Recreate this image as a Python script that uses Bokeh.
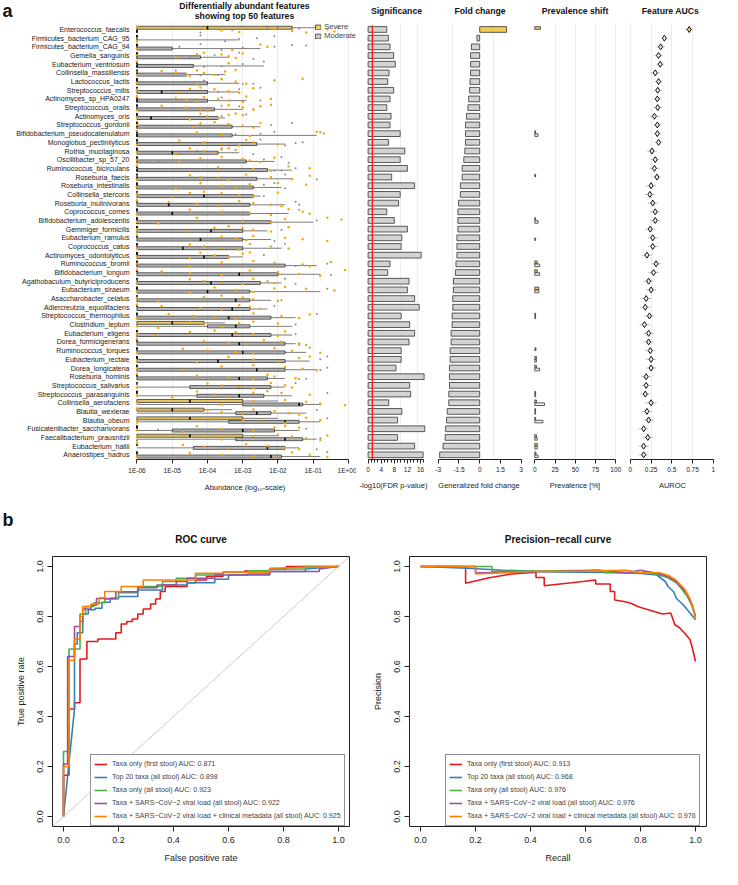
from bokeh.plotting import figure
from bokeh.models import Range1d, FixedTicker, Legend, LegendItem, Slope
from bokeh.layouts import row, column
from bokeh.embed import file_html
from bokeh.resources import INLINE
from bokeh.core.properties import value

FONT = "Liberation Sans"

# ---------------- panel a data ----------------
FEATURES = [
    "Enterococcus_faecalis", "Firmicutes_bacterium_CAG_95", "Firmicutes_bacterium_CAG_94",
    "Gemella_sanguinis", "Eubacterium_ventriosum", "Collinsella_massiliensis", "Lactococcus_lactis",
    "Streptococcus_mitis", "Actinomyces_sp_HPA0247", "Streptococcus_oralis", "Actinomyces_oris",
    "Streptococcus_gordonii", "Bifidobacterium_pseudocatenulatum", "Monoglobus_pectinilyticus",
    "Rothia_mucilaginosa", "Oscillibacter_sp_57_20", "Ruminococcus_bicirculans", "Roseburia_faecis",
    "Roseburia_intestinalis", "Collinsella_stercoris", "Roseburia_inulinivorans", "Coprococcus_comes",
    "Bifidobacterium_adolescentis", "Gemmiger_formicilis", "Eubacterium_ramulus", "Coprococcus_catus",
    "Actinomyces_odontolyticus", "Ruminococcus_bromii", "Bifidobacterium_longum",
    "Agathobaculum_butyriciproducens", "Eubacterium_siraeum", "Asaccharobacter_celatus",
    "Adlercreutzia_equolifaciens", "Streptococcus_thermophilus", "Clostridium_leptum",
    "Eubacterium_eligens", "Dorea_formicigenerans", "Ruminococcus_torques", "Eubacterium_rectale",
    "Dorea_longicatena", "Roseburia_hominis", "Streptococcus_salivarius", "Streptococcus_parasanguinis",
    "Collinsella_aerofaciens", "Blautia_wexlerae", "Blautia_obeum", "Fusicatenibacter_saccharivorans",
    "Faecalibacterium_prausnitzii", "Eubacterium_hallii", "Anaerostipes_hadrus"]

# -log10(FDR p-value)
SIG = [5.7, 6.2, 6.7, 7.8, 8.3, 6.4, 6.0, 7.8, 6.7, 5.7,
       7.0, 6.7, 9.8, 6.2, 11.2, 9.8, 12.0, 7.2, 14.2, 9.8,
       9.3, 5.7, 8.0, 12.0, 10.3, 10.1, 16.2, 6.7, 6.0, 12.5,
       12.0, 14.2, 15.6, 10.1, 12.7, 14.2, 12.5, 10.1, 10.1, 8.5,
       17.1, 12.7, 13.0, 6.3, 10.3, 9.0, 17.3, 9.0, 14.2, 16.8]
SIG_CUTOFF = 1.3
# generalized fold change
FC = [1.95, -0.2, -0.6, -0.66, -0.66, -0.66, -0.7, -0.73, -0.8, -0.85,
      -0.96, -1.03, -1.03, -1.03, -1.08, -1.15, -1.27, -1.27, -1.4, -1.4,
      -1.53, -1.58, -1.58, -1.58, -1.65, -1.65, -1.65, -1.72, -1.76, -1.9,
      -1.9, -1.95, -1.95, -2.0, -2.0, -2.07, -2.07, -2.14, -2.14, -2.19,
      -2.19, -2.19, -2.24, -2.24, -2.35, -2.4, -2.47, -2.5, -2.66, -2.9]
# prevalence [%]
PREV_SEV = [7, 0, 0, 0, 0, 0, 0, 0, 0, 0,
            0, 0, 1, 0, 0, 0, 0, 1, 0, 0,
            0, 0, 1, 0, 0, 0, 0, 3, 3, 0,
            5, 0, 0, 1, 0, 0, 0, 1.5, 2, 2,
            0, 0, 1, 2, 1, 1, 0, 2, 3, 1.5]
PREV_MOD = [0, 0, 0, 0, 0, 0, 0, 0, 0, 0,
            0, 0, 4, 0, 0, 0, 0, 0, 0, 0,
            0, 0, 4, 0, 1, 0, 0, 6, 6, 0,
            5, 0, 0, 1, 0, 0, 0, 0, 2, 6,
            0, 0, 1, 12, 1, 10, 0, 3, 3, 4]
# feature AUROC and CI half width
AUC = [0.71, 0.41, 0.365, 0.34, 0.36, 0.30, 0.34, 0.33, 0.325, 0.33,
       0.29, 0.325, 0.325, 0.34, 0.26, 0.30, 0.29, 0.32, 0.25, 0.235,
       0.27, 0.30, 0.30, 0.24, 0.27, 0.27, 0.20, 0.31, 0.28, 0.22,
       0.25, 0.19, 0.18, 0.23, 0.17, 0.22, 0.22, 0.24, 0.25, 0.25,
       0.19, 0.19, 0.18, 0.25, 0.20, 0.22, 0.16, 0.21, 0.16, 0.16]
AUC_CI = [0.05, 0.03, 0.05, 0.05, 0.05, 0.06, 0.05, 0.05, 0.05, 0.05,
          0.06, 0.05, 0.05, 0.05, 0.06, 0.05, 0.06, 0.05, 0.06, 0.06,
          0.06, 0.06, 0.06, 0.06, 0.06, 0.06, 0.06, 0.06, 0.06, 0.06,
          0.06, 0.06, 0.06, 0.06, 0.06, 0.06, 0.06, 0.06, 0.06, 0.06,
          0.06, 0.06, 0.06, 0.07, 0.06, 0.06, 0.06, 0.06, 0.06, 0.06]

# abundance boxplots (log10), pseudo-count floor 1E-06
FLOOR = -6
SEV_Q1 = [-6] * 50
SEV_MED = [-4.0, -6, -6, -6, -6, -6, -6, -6, -6, -6,
           -6, -6, -6, -6, -6, -6, -6, -6, -6, -6,
           -6, -6, -6, -6, -6, -6, -6, -6, -6, -6,
           -6, -6, -6, -6, -5.0, -6, -6, -6, -6, -6,
           -6, -6, -6, -4.5, -5.0, -4.5, -6, -4.5, -6, -6]
SEV_Q3 = [-1.6, -6, -6, -6, -6, -6, -6, -6, -6, -6,
          -6, -6, -6, -6, -6, -6, -6, -6, -6, -6,
          -6, -6, -6, -6, -6, -6, -6, -6, -6, -6,
          -6, -6, -6, -6, -4.1, -6, -6, -6, -6, -6,
          -6, -6, -6, -3.0, -4.1, -3.0, -6, -3.0, -6, -6]
SEV_HI = [-0.9, -6, -6, -6, -6, -6, -6, -6, -6, -6,
          -6, -6, -6, -6, -6, -6, -6, -6, -6, -6,
          -6, -6, -6, -6, -6, -6, -6, -6, -6, -6,
          -6, -6, -6, -6, -3.5, -6, -6, -6, -6, -6,
          -6, -6, -6, -2.0, -3.3, -2.0, -6, -2.0, -6, -6]
MOD_Q1 = [-6, -6, -6, -6, -6, -6, -6, -6, -6, -6,
          -6, -6, -6, -6, -6, -6, -6, -6, -6, -6,
          -6, -6, -6, -6, -6, -6, -6, -6, -6, -6,
          -6, -6, -6, -6, -4.0, -6, -6, -6, -6, -6,
          -6, -4.5, -4.3, -3.0, -3.2, -3.4, -5.0, -3.2, -4.4, -6]
MOD_MED = [-6, -6, -6, -6, -6, -6, -6, -5.3, -6, -6,
           -5.6, -6, -6, -6, -5.0, -6, -6, -6, -6, -4.1,
           -5.1, -5.0, -6, -3.9, -4.2, -4.7, -4.1, -6, -3.1, -3.9,
           -4.0, -3.2, -3.3, -3.4, -3.2, -3.3, -3.1, -3.0, -3.7, -2.6,
           -3.1, -3.1, -3.1, -1.4, -2.6, -1.8, -3.0, -1.8, -2.3, -2.2]
MOD_Q3 = [-6, -6, -5.0, -4.2, -4.4, -4.6, -4.0, -4.0, -4.0, -3.8,
          -3.7, -3.3, -3.3, -2.6, -3.7, -2.9, -2.3, -2.6, -2.7, -2.7,
          -2.8, -2.8, -2.2, -3.0, -3.0, -3.0, -3.4, -1.8, -2.0, -2.5,
          -2.8, -2.8, -2.8, -2.2, -2.8, -2.2, -1.8, -1.8, -1.8, -1.8,
          -2.3, -2.2, -2.4, -1.3, -2.2, -1.4, -2.1, -1.3, -1.8, -1.9]
MOD_HI = [-6, -3.1, -2.5, -3.4, -2.4, -3.5, -3.1, -3.1, -2.9, -3.0,
          -3.5, -2.5, -0.9, -1.8, -3.1, -2.1, -1.6, -1.6, -1.9, -2.5,
          -1.8, -1.7, -1.0, -2.3, -2.2, -1.9, -3.0, -0.9, -0.8, -1.9,
          -0.8, -2.2, -2.3, -1.5, -1.6, -1.6, -1.5, -1.2, -1.1, -0.9,
          -1.8, -1.8, -1.6, -0.8, -1.2, -0.8, -1.4, -0.9, -1.4, -0.8]
SEV_PTS = [
    [-6, -4.1, -3.6, -3.1, -2.5, -2.1, -1.6, -1.2, -0.9, -0.6, -0.4, -0.3],
    [-6],
    [-6, -3.3, -2.5, -2.3],
    [-6, -4.9, -4.3, -4.1, -3.6, -3.4, -3.2, -3.0],
    [-6, -3.4],
    [-6, -5.3, -4.9, -4.6, -4.5, -4.3, -4.1, -3.8, -3.5, -3.2],
    [-6, -4.3, -3.6, -3.2, -2.9, -2.1, -1.3],
    [-6, -4.8, -4.5, -4.2, -3.8, -3.4, -3.1, -2.7],
    [-6, -4.9, -4.6, -4.3, -4.1, -3.7, -3.4, -3.0, -2.9, -2.2],
    [-6, -5.3, -4.6, -4.2, -4.0, -3.4, -3.0, -2.7, -2.5, -2.2],
    [-6, -4.5, -4.2, -4.0, -3.7, -3.4, -3.2, -3.0],
    [-6, -4.4, -4.2, -3.8, -3.4, -3.0, -2.7, -2.5],
    [-6, -4.3, -3.6, -2.8, -0.9, -0.7],
    [-6, -4.8, -4.1, -3.6, -3.1, -2.9, -2.7, -2.0],
    [-6, -4.9, -4.5, -4.1, -3.8, -3.6, -3.4, -3.2],
    [-6, -4.8, -4.2, -3.6, -3.0, -2.8, -2.5, -2.1],
    [-6, -3.7, -2.7, -2.2, -1.7, -1.1],
    [-6, -4.5, -4.2, -3.7, -3.4, -2.9, -2.2, -1.6, -1.1],
    [-6, -4.9, -4.2, -3.6, -3.2, -2.8, -2.0, -1.2],
    [-6, -5.0, -4.5, -4.1, -3.6, -3.1, -2.7, -2.0],
    [-6, -5.1, -4.3, -3.7, -3.1, -2.7, -2.2, -1.9],
    [-6, -4.5, -3.6, -2.8, -2.2, -1.7, -1.3, -1.1],
    [-6, -5.4, -4.3, -3.0, -2.2, -1.8, -0.6, -0.2],
    [-6, -4.6, -3.8, -3.4, -3.0, -2.7, -2.2, -1.7],
    [-6, -3.6, -3.2, -2.9, -2.7, -1.8, -1.3, -0.6],
    [-6, -4.5, -4.1, -3.6, -3.1, -2.8, -2.2, -1.7],
    [-6, -4.5, -4.2, -3.8, -3.4, -3.0, -2.8],
    [-6, -4.5, -3.6, -2.7, -2.1, -1.3, -1.1, -0.5],
    [-6, -5.3, -4.5, -3.6, -2.8, -2.0, -1.4, -0.8, -0.1],
    [-6, -4.5, -4.1, -3.6, -3.0, -2.7, -2.3, -2.1],
    [-6, -4.5, -3.8, -3.2, -2.7, -2.1, -1.8, -1.2, -0.4],
    [-6, -5.4, -4.1, -3.6, -3.0, -2.7, -2.0],
    [-6, -5.3, -4.2, -3.6, -3.1, -2.8, -2.5],
    [-6, -5.1, -4.4, -3.8, -3.2, -2.7, -1.9, -1.4, -1.1],
    [-6, -5.4, -4.5, -4.1, -3.6, -3.1, -2.7, -2.0],
    [-6, -5.5, -4.5, -3.8, -3.2, -2.7, -2.0, -1.8],
    [-6, -4.1, -3.4, -2.9, -2.4, -1.9, -1.4, -1.2],
    [-6, -4.7, -4.0, -3.2, -2.7, -2.1, -1.6, -0.8],
    [-6, -4.3, -3.4, -2.7, -2.0, -1.4, -1.1],
    [-6, -4.7, -3.6, -2.7, -1.8, -1.3, -0.9],
    [-6, -4.3, -3.4, -2.7, -2.3, -2.1, -1.5],
    [-6, -4.0, -3.6, -3.1, -2.7, -2.2, -1.8, -1.6],
    [-6, -5.0, -4.3, -3.8, -3.4, -2.7, -2.3, -1.9, -1.1],
    [-6, -3.6, -2.7, -1.8, -1.2, -0.8, -0.1],
    [-6, -4.0, -3.6, -3.0, -2.7, -2.1, -1.7, -1.4],
    [-6, -3.8, -3.0, -2.5, -1.8, -1.2, -0.8],
    [-6, -4.7, -4.3, -3.6, -2.7, -2.1, -1.8, -1.4],
    [-6, -3.6, -2.7, -2.0, -1.6, -1.2, -0.8, -0.6],
    [-6, -4.7, -4.1, -3.4, -2.9, -2.3, -1.8, -1.4],
    [-6, -4.5, -3.6, -2.7, -2.1, -1.6, -1.1, -0.6]]
MOD_PTS = [
    [-6, -4.2, -3.3, -2.7, -2.3, -2.0, -1.6, -1.4],
    [-6, -4.2, -3.5, -3.1, -2.6, -2.1],
    [-6, -4.8, -4.2, -3.6, -3.0, -2.1, -1.6, -1.2],
    [-6, -4.5, -3.8, -3.1, -2.7],
    [-6, -4.1, -3.6, -3.0, -2.4],
    [-6, -4.9, -4.2, -3.7],
    [-6, -4.1, -3.6, -3.0, -2.7],
    [-6, -3.7, -3.1, -2.5],
    [-6, -3.6, -2.5],
    [-6, -3.6, -3.1, -2.7],
    [-6, -3.6, -2.9],
    [-6, -3.6, -2.2, -1.6],
    [-6, -4.2, -3.2, -2.5, -2.1, -0.8],
    [-6, -2.5, -1.8, -1.5, -1.3],
    [-6, -4.3, -3.6, -2.7],
    [-6, -5.4, -2.4, -1.9, -1.7],
    [-6, -2.1, -1.9, -1.5],
    [-6, -1.8, -0.9],
    [-6, -2.4, -2.1, -1.8],
    [-6, -2.4],
    [-6, -1.5, -1.4],
    [-6, -1.4],
    [-6, -0.9],
    [-6, -1.9],
    [-6, -2.1],
    [-6, -1.8],
    [-6, -2.4],
    [-6, -1.5, -0.6],
    [-6, -0.5],
    [-6, -1.8, -1.5],
    [-6, -0.6],
    [-6, -1.9],
    [-6, -2.1],
    [-6, -0.9],
    [-6, -1.5],
    [-6, -1.5],
    [-6, -1.4],
    [-6, -1.1],
    [-6, -0.8, -0.6],
    [-6, -0.8, -0.6],
    [-6, -1.4, -1.2],
    [-6, -1.5],
    [-6, -0.6],
    [-6, -0.8],
    [-6, -0.9],
    [-6, -0.6],
    [-5.4, -1.2],
    [-6, -0.8],
    [-6, -0.9],
    [-6, -0.6]]

ABUND_TICKS = [-6, -5, -4, -3, -2, -1, 0]
ABUND_LABELS = ["1E-06", "1E-05", "1E-04", "1E-03", "1E-02", "1E-01", "1E+00"]
GROUPS = ["Severe", "Moderate"]
PANEL_A_TITLES = ["Differentially abundant features", "showing top 50 features",
                  "Significance", "Fold change", "Prevalence shift", "Feature AUCs"]

# ---------------- panel b data ----------------
MODEL_NAMES = ["Taxa only (first stool)", "Top 20 taxa (all stool)", "Taxa only (all stool)",
               "Taxa + SARS\u2212CoV\u22122 viral load (all stool)",
               "Taxa + SARS\u2212CoV\u22122 viral load + clinical metadata (all stool)"]
ROC_AUC = ["0.871", "0.898", "0.923", "0.922", "0.925"]
PR_AUC = ["0.913", "0.968", "0.976", "0.976", "0.976"]
MODEL_COLORS = ["#E41A1C", "#377EB8", "#4DAF4A", "#984EA3", "#FF7F00"]
PANEL_B_TITLES = ["ROC curve", "Precision\u2212recall curve"]

ROC_FPR = [
    [0, 0, 0.02, 0.02, 0.04, 0.04, 0.06, 0.06, 0.085, 0.085, 0.125, 0.125, 0.19, 0.19, 0.21, 0.21,
     0.23, 0.23, 0.25, 0.25, 0.27, 0.27, 0.29, 0.29, 0.317, 0.317, 0.335, 0.335, 0.352, 0.352,
     0.37, 0.37, 0.45, 0.45, 0.48, 0.48, 0.52, 0.52, 0.58, 0.58, 0.66, 0.66, 0.75, 0.75, 0.81, 0.81, 1.0],
    [0, 0.04, 0.04, 0.05, 0.05, 0.07, 0.07, 0.09, 0.09, 0.115, 0.115, 0.14, 0.14, 0.17, 0.17, 0.2, 0.2,
     0.27, 0.27, 0.36, 0.36, 0.45, 0.45, 0.55, 0.55, 0.6, 0.6, 0.67, 0.67, 0.75, 0.75, 0.88, 0.88, 1.0],
    [0, 0, 0.02, 0.02, 0.06, 0.06, 0.08, 0.08, 0.11, 0.11, 0.15, 0.15, 0.2, 0.2, 0.27, 0.27, 0.36, 0.36,
     0.41, 0.41, 0.48, 0.48, 0.58, 0.58, 0.67, 0.67, 0.75, 0.75, 0.88, 0.88, 1.0],
    [0, 0, 0.015, 0.015, 0.04, 0.04, 0.06, 0.06, 0.07, 0.07, 0.1, 0.1, 0.12, 0.12, 0.19, 0.19, 0.27, 0.27,
     0.34, 0.34, 0.41, 0.41, 0.45, 0.45, 0.55, 0.55, 0.75, 0.75, 0.93, 0.93, 1.0],
    [0, 0, 0.02, 0.02, 0.04, 0.04, 0.06, 0.06, 0.07, 0.07, 0.1, 0.1, 0.13, 0.13, 0.15, 0.15, 0.21, 0.21,
     0.29, 0.29, 0.48, 0.48, 0.58, 0.58, 0.75, 0.75, 1.0]]
ROC_TPR = [
    [0, 0.165, 0.165, 0.43, 0.43, 0.455, 0.455, 0.63, 0.63, 0.70, 0.70, 0.71, 0.71, 0.735, 0.735, 0.77,
     0.77, 0.78, 0.78, 0.79, 0.79, 0.81, 0.81, 0.83, 0.83, 0.85, 0.85, 0.87, 0.87, 0.90,
     0.90, 0.92, 0.92, 0.935, 0.935, 0.946, 0.946, 0.96, 0.96, 0.977, 0.977, 0.983, 0.983, 0.99, 0.99, 1.0, 1.0],
    [0, 0.43, 0.69, 0.69, 0.735, 0.735, 0.81, 0.81, 0.827, 0.827, 0.833, 0.833, 0.857, 0.857, 0.873, 0.873,
     0.88, 0.88, 0.906, 0.906, 0.926, 0.926, 0.935, 0.935, 0.949, 0.949, 0.966, 0.966, 0.97, 0.97, 0.98,
     0.98, 0.99, 1.0],
    [0, 0.26, 0.26, 0.67, 0.67, 0.81, 0.81, 0.84, 0.84, 0.855, 0.855, 0.87, 0.87, 0.895, 0.895, 0.92, 0.92,
     0.94, 0.94, 0.953, 0.953, 0.966, 0.966, 0.977, 0.977, 0.983, 0.983, 0.99, 0.99, 1.0, 1.0],
    [0, 0.21, 0.21, 0.64, 0.64, 0.76, 0.76, 0.78, 0.78, 0.83, 0.83, 0.845, 0.845, 0.872, 0.872, 0.899,
     0.899, 0.915, 0.915, 0.926, 0.926, 0.94, 0.94, 0.953, 0.953, 0.966, 0.966, 0.98, 0.98, 0.99, 1.0],
    [0, 0.2, 0.2, 0.625, 0.625, 0.71, 0.71, 0.80, 0.80, 0.84, 0.84, 0.85, 0.85, 0.875, 0.875, 0.9, 0.9,
     0.92, 0.92, 0.946, 0.946, 0.973, 0.973, 0.977, 0.977, 0.993, 1.0]]

PR_REC = [
    [0, 0.164, 0.164, 0.25, 0.33, 0.42, 0.42, 0.45, 0.45, 0.55, 0.637, 0.637, 0.69, 0.69, 0.706, 0.706,
     0.74, 0.765, 0.79, 0.81, 0.85, 0.88, 0.91, 0.925, 0.943, 0.96, 0.98, 0.99, 1.0],
    [0, 0.17, 0.3, 0.5, 0.7, 0.8, 0.86, 0.89, 0.9, 0.92, 0.93, 0.955, 0.98, 1.0],
    [0, 0.26, 0.26, 0.65, 0.67, 0.8, 0.82, 0.87, 0.9, 0.93, 0.95, 0.97, 0.99, 1.0],
    [0, 0.2, 0.2, 0.5, 0.65, 0.75, 0.8, 0.85, 0.9, 0.93, 0.95, 0.97, 0.985, 1.0],
    [0, 0.2, 0.2, 0.4, 0.6, 0.75, 0.8, 0.87, 0.9, 0.93, 0.96, 0.98, 0.99, 1.0]]
PR_PREC = [
    [1.0, 1.0, 0.933, 0.955, 0.97, 0.977, 0.956, 0.956, 0.923, 0.935, 0.946, 0.93, 0.93, 0.90, 0.90, 0.866,
     0.86, 0.853, 0.84, 0.833, 0.82, 0.81, 0.814, 0.767, 0.754, 0.734, 0.708, 0.668, 0.62],
    [1.0, 0.993, 0.985, 0.978, 0.976, 0.972, 0.966, 0.94, 0.92, 0.9, 0.873, 0.847, 0.814, 0.787],
    [1.0, 1.0, 0.98, 0.985, 0.975, 0.975, 0.978, 0.965, 0.955, 0.935, 0.91, 0.88, 0.84, 0.8],
    [1.0, 1.0, 0.975, 0.98, 0.985, 0.975, 0.985, 0.975, 0.96, 0.94, 0.915, 0.89, 0.85, 0.8],
    [1.0, 1.0, 0.97, 0.98, 0.982, 0.985, 0.975, 0.975, 0.965, 0.945, 0.91, 0.87, 0.84, 0.79]]

# ---------------- styling constants ----------------
SEV_FILL = "#F2C94C"
MOD_FILL = "#B8B8B8"
ORANGE = "#FFA500"
GREYPT = "#8A8A8A"
BAR_FILL = "#D3D3D3"
EDGE = "#333333"
GRID = "#ECECEC"
JIT = [-0.32, -0.12, 0.08, 0.28, -0.22, -0.02, 0.18, 0.36, -0.28, 0.0, 0.24, -0.16]

W = 722
HA_HEAD, A_H, A_BOT = 22, 472, 34
HB_HEAD, B_H, B_BOT = 62, 313, 43
Y_BOTTOM, Y_TOP = 49.54, -0.805
N = len(FEATURES)
ROWS = list(range(N))


def header(height):
    p = figure(width=W, height=height, x_range=Range1d(0, W), y_range=Range1d(height, 0),
               output_backend="svg", toolbar_location=None, x_axis_location=None, y_axis_location=None,
               min_border=0)
    p.outline_line_color = None
    p.grid.visible = False
    return p


def htext(p, x, y, text, size, align="center"):
    p.text(x=[x], y=[y], text=[text], text_align=align, text_baseline="middle",
           text_font=value(FONT), text_font_size=value(size), text_font_style="bold",
           text_color="#111111")


def mk_a(width, xr, left=0, yaxis=False):
    p = figure(width=width, height=A_H, x_range=Range1d(*xr), y_range=Range1d(Y_BOTTOM, Y_TOP),
               output_backend="svg", toolbar_location=None,
               y_axis_location="left" if yaxis else None,
               min_border_left=left, min_border_right=0,
               min_border_top=0, min_border_bottom=A_BOT)
    p.outline_line_color = None
    p.ygrid.visible = False
    p.xgrid.grid_line_color = GRID
    return p


def style_xaxis(p, ticks, labels, title, bounds, minor=None, grid=None):
    ax = p.xaxis[0]
    ax.ticker = FixedTicker(ticks=ticks, minor_ticks=minor or [])
    ax.major_label_overrides = {t: l for t, l in zip(ticks, labels)}
    ax.bounds = bounds
    ax.major_tick_out = 4
    ax.major_tick_in = 0
    ax.minor_tick_out = 3 if minor else 0
    ax.minor_tick_in = 0
    ax.major_tick_line_color = "#222222"
    ax.minor_tick_line_color = "#222222"
    ax.axis_line_color = "#222222"
    ax.major_label_text_font = FONT
    ax.major_label_text_font_size = "6.5px"
    ax.major_label_text_color = "#222222"
    ax.major_label_standoff = 3
    ax.axis_label = title
    ax.axis_label_text_font = FONT
    ax.axis_label_text_font_size = "7.5px"
    ax.axis_label_text_font_style = "normal"
    ax.axis_label_text_color = "#222222"
    ax.axis_label_standoff = 6
    p.xgrid.ticker = FixedTicker(ticks=grid or [])


# ---- header a ----
ha = header(HA_HEAD)
htext(ha, 2, 10, "a", "18px", align="left")
htext(ha, 244, 5.5, PANEL_A_TITLES[0], "8.7px")
htext(ha, 244, 15.5, PANEL_A_TITLES[1], "8.7px")
htext(ha, 396, 10, PANEL_A_TITLES[2], "8.7px")
htext(ha, 479.5, 10, PANEL_A_TITLES[3], "8.7px")
htext(ha, 574.5, 10, PANEL_A_TITLES[4], "8.7px")
htext(ha, 670, 10, PANEL_A_TITLES[5], "8.7px")

# ---- abundance boxplots ----
fb = mk_a(356, (-6.099, 0.227), left=133, yaxis=True)
style_xaxis(fb, ABUND_TICKS, ABUND_LABELS, "Abundance (log\u2081\u2080-scale)", (-6, 0),
            grid=ABUND_TICKS)
ya = fb.yaxis[0]
ya.ticker = FixedTicker(ticks=ROWS)
ya.major_label_overrides = {i: f for i, f in enumerate(FEATURES)}
ya.axis_line_color = None
ya.major_tick_line_color = None
ya.major_tick_out = 0
ya.major_tick_in = 0
ya.minor_tick_out = 0
ya.minor_tick_in = 0
ya.major_label_standoff = 4
ya.major_label_text_font = FONT
ya.major_label_text_font_size = "7px"
ya.major_label_text_color = "#1A1A1A"

OFF, BH = 0.2, 0.34
ys = [i - OFF for i in ROWS]
ym = [i + OFF for i in ROWS]
fb.segment(x0=[FLOOR] * N, x1=MOD_HI, y0=ym, y1=ym, line_color="#444444", line_width=0.7)
fb.segment(x0=[FLOOR] * N, x1=SEV_HI, y0=ys, y1=ys, line_color="#444444", line_width=0.7)
r_mod = fb.quad(left=MOD_Q1, right=MOD_Q3, top=[y - BH / 2 for y in ym], bottom=[y + BH / 2 for y in ym],
                fill_color=MOD_FILL, fill_alpha=0.75, line_color=EDGE, line_width=0.8)
r_sev = fb.quad(left=SEV_Q1, right=SEV_Q3, top=[y - BH / 2 for y in ys], bottom=[y + BH / 2 for y in ys],
                fill_color=SEV_FILL, fill_alpha=0.8, line_color=EDGE, line_width=0.8)
fb.segment(x0=MOD_MED, x1=MOD_MED, y0=[y - BH / 2 for y in ym], y1=[y + BH / 2 for y in ym],
           line_color="black", line_width=1.6)
fb.segment(x0=SEV_MED, x1=SEV_MED, y0=[y - BH / 2 for y in ys], y1=[y + BH / 2 for y in ys],
           line_color="black", line_width=1.6)
mx, my, sx, sy = [], [], [], []
for i, pts in enumerate(MOD_PTS):
    for k, v in enumerate(pts):
        mx.append(v)
        my.append(i + JIT[(i * 5 + k * 7) % len(JIT)])
for i, pts in enumerate(SEV_PTS):
    for k, v in enumerate(pts):
        sx.append(v)
        sy.append(i + JIT[(i * 3 + k) % len(JIT)])
fb.scatter(mx, my, size=2.0, fill_color=GREYPT, line_color=None)
fb.scatter(sx, sy, size=2.5, fill_color=ORANGE, line_color=None)
leg_a = Legend(items=[LegendItem(label=GROUPS[0], renderers=[r_sev]),
                      LegendItem(label=GROUPS[1], renderers=[r_mod])],
               location="top_right", glyph_width=7, glyph_height=6, label_height=8,
               label_standoff=3, padding=0, spacing=0, margin=0,
               label_text_font=FONT, label_text_font_size="7.5px",
               border_line_color=None, background_fill_alpha=0)
fb.add_layout(leg_a)

# ---- significance ----
fs = mk_a(74, (-3.54, 19.05))
style_xaxis(fs, [0, 4, 8, 12, 16], ["0", "4", "8", "12", "16"], "-log10(FDR p-value)", (0, 17),
            minor=list(range(0, 18)), grid=[10, 15])
fs.hbar(y=ROWS, left=0, right=SIG, height=0.66, fill_color=BAR_FILL, line_color=EDGE, line_width=0.8)
fs.segment(x0=[SIG_CUTOFF], x1=[SIG_CUTOFF], y0=[-0.5], y1=[Y_BOTTOM], line_color="#FF1A1A", line_width=1.3)

# ---- fold change ----
ff = mk_a(97, (-3.565, 3.464))
style_xaxis(ff, [-3, -1.5, 0, 1.5, 3], ["-3", "-1.5", "0", "1.5", "3"], "Generalized fold change",
            (-3, 3), grid=[-2, 1])
ff.hbar(y=ROWS, left=[min(0, v) for v in FC], right=[max(0, v) for v in FC], height=0.66,
        fill_color=[SEV_FILL if v > 0 else BAR_FILL for v in FC], line_color=EDGE, line_width=0.8)

# ---- prevalence shift ----
fp = mk_a(95, (-9.02, 108.4))
style_xaxis(fp, [0, 25, 50, 75, 100], ["0", "25", "50", "75", "100"], "Prevalence [%]", (0, 100),
            grid=[25, 50, 75, 100])
ps_rows = [i for i in ROWS if PREV_SEV[i] > 0]
pm_rows = [i for i in ROWS if PREV_MOD[i] > 0]
fp.hbar(y=[i - 0.17 for i in ps_rows], left=0, right=[PREV_SEV[i] for i in ps_rows], height=0.3,
        fill_color=SEV_FILL, line_color=EDGE, line_width=0.8)
fp.hbar(y=[i + 0.17 for i in pm_rows], left=0, right=[PREV_MOD[i] for i in pm_rows], height=0.3,
        fill_color="#F4F4F4", line_color=EDGE, line_width=0.8)

# ---- feature AUCs ----
fa = mk_a(100, (-0.0954, 1.112))
style_xaxis(fa, [0, 0.25, 0.5, 0.75, 1], ["0", "0.25", "0.5", "0.75", "1"], "AUROC", (0, 1),
            grid=[0, 0.25, 0.5, 0.75])
fa.segment(x0=[a - c for a, c in zip(AUC, AUC_CI)], x1=[a + c for a, c in zip(AUC, AUC_CI)],
           y0=ROWS, y1=ROWS, line_color="#AAAAAA", line_width=0.8)
fa.scatter(AUC, ROWS, marker="diamond", size=6,
           fill_color=[SEV_FILL if v > 0.5 else "#EEEEEE" for v in AUC], line_color="#111111", line_width=1.0)

# ---- header b ----
hb = header(HB_HEAD)
htext(hb, 2, 25, "b", "18px", align="left")
htext(hb, 200.5, 45, PANEL_B_TITLES[0], "10px")
htext(hb, 557.5, 45, PANEL_B_TITLES[1], "10px")


# ---------------- panel b ----------------
def mk_b(left, right, xlabel, ylabel):
    p = figure(width=361, height=B_H, x_range=Range1d(-0.04, 1.04), y_range=Range1d(-0.04, 1.04),
               output_backend="svg", toolbar_location=None,
               min_border_left=left, min_border_right=right, min_border_top=0, min_border_bottom=B_BOT)
    p.outline_line_color = "#222222"
    p.outline_line_width = 1
    p.grid.visible = False
    ticks = [0, 0.2, 0.4, 0.6, 0.8, 1.0]
    labs = ["0.0", "0.2", "0.4", "0.6", "0.8", "1.0"]
    for ax, lab in ((p.xaxis[0], xlabel), (p.yaxis[0], ylabel)):
        ax.ticker = FixedTicker(ticks=ticks)
        ax.major_label_overrides = {t: l for t, l in zip(ticks, labs)}
        ax.axis_line_color = None
        ax.major_tick_out = 5
        ax.major_tick_in = 0
        ax.minor_tick_out = 0
        ax.minor_tick_in = 0
        ax.major_tick_line_color = "#222222"
        ax.major_label_text_font = FONT
        ax.major_label_text_font_size = "9px"
        ax.major_label_text_color = "#222222"
        ax.axis_label = lab
        ax.axis_label_text_font = FONT
        ax.axis_label_text_font_size = "9px"
        ax.axis_label_text_font_style = "normal"
        ax.axis_label_text_color = "#222222"
    p.xaxis[0].major_label_standoff = 5
    p.xaxis[0].axis_label_standoff = 7
    p.yaxis[0].major_label_orientation = "vertical"
    p.yaxis[0].major_label_standoff = 5
    p.yaxis[0].axis_label_standoff = 8
    return p


roc = mk_b(52, 12, "False positive rate", "True positive rate")
roc.add_layout(Slope(gradient=1, y_intercept=0, line_color="#BBBBBB", line_width=0.8))
items = []
for k in range(5):
    r = roc.line(ROC_FPR[k], ROC_TPR[k], line_color=MODEL_COLORS[k], line_width=1.6)
    items.append(LegendItem(label=f"{MODEL_NAMES[k]} AUC: {ROC_AUC[k]}", renderers=[r]))

pr = mk_b(48, 16, "Recall", "Precision")
items2 = []
for k in range(5):
    r = pr.line(PR_REC[k], PR_PREC[k], line_color=MODEL_COLORS[k], line_width=1.6)
    items2.append(LegendItem(label=f"{MODEL_NAMES[k]} AUC: {PR_AUC[k]}", renderers=[r]))

for p, its, lx in ((roc, items, 38), (pr, items2, 36)):
    lg = Legend(items=its, location=(lx, 0), glyph_width=13, glyph_height=10, label_height=12,
                label_standoff=5, padding=3, spacing=1, margin=0,
                label_text_font=FONT, label_text_font_size="7.1px",
                border_line_color="#222222", border_line_width=1,
                background_fill_color="white", background_fill_alpha=1)
    p.add_layout(lg)

layout = column(ha, row(fb, fs, ff, fp, fa), hb, row(roc, pr))
open("out.html", "w").write(file_html(layout, INLINE))
